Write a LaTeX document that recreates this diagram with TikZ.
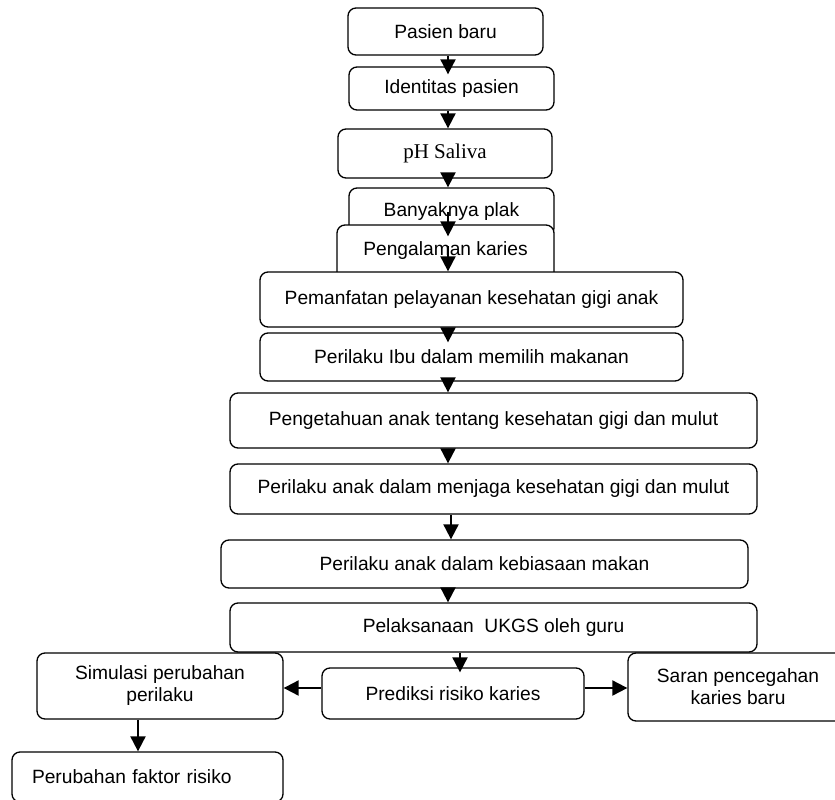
\documentclass[tikz,border=0pt]{standalone}
\usepackage{fontspec}
\setmainfont{Liberation Sans}
\newfontfamily\timesfont{Liberation Serif}
\usetikzlibrary{arrows.meta}
\tikzset{
  box/.style={draw, rounded corners=8pt, line width=1.3pt, fill=white, inner sep=0pt,
    font=\fontsize{19.2}{22}\selectfont},
  arr/.style={line width=2pt, -{Triangle[length=15pt,width=15pt]}}
}
\begin{document}
\begin{tikzpicture}[x=1pt, y=-1pt]
    \useasboundingbox (0,0) rectangle (835,800);
    \clip (0,0) rectangle (835,800);
    \coordinate (ax) at (448,0);
    \coordinate (bx) at (451,0);
    \coordinate (px) at (460,0);
    \coordinate (sx) at (138,0);
    \coordinate (hy) at (0,688);
    \node[box, minimum width=195pt, minimum height=47pt] (pasien) at (445.5,31.5) {Pasien baru};
    \node[box, minimum width=205pt, minimum height=43pt] (identitas) at (451.5,88.5) {Identitas pasien};
    \node[box, minimum width=214pt, minimum height=49pt, font=\timesfont\fontsize{21}{24}\selectfont] (ph) at (445,153.5) {pH Saliva};
    \node[box, minimum width=205pt, minimum height=48pt] (plak) at (451.5,212) {Banyaknya plak};
    \node[box, minimum width=217pt, minimum height=60pt, text depth=12pt] (karies) at (445.5,255) {Pengalaman karies};
    \node[box, minimum width=423pt, minimum height=55pt] (layanan) at (471.5,299.5) {Pemanfatan pelayanan kesehatan gigi anak};
    \node[box, minimum width=423pt, minimum height=48pt] (ibu) at (471.5,357) {Perilaku Ibu dalam memilih makanan};
    \node[box, minimum width=527pt, minimum height=55pt] (tahu) at (493.5,420.5) {Pengetahuan anak tentang kesehatan gigi dan mulut};
    \node[box, minimum width=527pt, minimum height=50pt] (jaga) at (493.5,489) {Perilaku anak dalam menjaga kesehatan gigi dan mulut};
    \node[box, minimum width=527pt, minimum height=48pt] (makan) at (484.5,564) {Perilaku anak dalam kebiasaan makan};
    \node[box, minimum width=527pt, minimum height=49pt] (ukgs) at (493.5,627.5) {Pelaksanaan\ \ UKGS oleh guru};
    \node[box, minimum width=262pt, minimum height=51pt] (prediksi) at (453,693.5) {Prediksi risiko karies};
    \node[box, minimum width=246pt, minimum height=66pt, align=center] (simulasi) at (160,686) {Simulasi perubahan\\perilaku};
    \node[box, minimum width=220pt, minimum height=68pt, align=center] (saran) at (738,687) {Saran pencegahan\\karies baru};
    \node[box, text width=231pt, inner xsep=20pt, minimum height=50pt, align=left] (faktor) at (147.5,777) {Perubahan faktor risiko};
    \draw[arr, shorten >=-8pt] (pasien.south -| ax) -- (identitas.north -| ax);
    \draw[arr] (identitas.south -| ax) -- (ph.north -| ax);
    \draw[arr] (ph.south -| ax) -- (plak.north -| ax);
    \draw[arr, shorten >=-12pt] (plak.center -| ax) -- (karies.north -| ax);
    \draw[arr, shorten <=22pt] (karies.north -| ax) -- (layanan.north -| ax);
    \draw[arr, shorten >=-10pt] (layanan.south -| ax) -- (ibu.north -| ax);
    \draw[arr] (ibu.south -| ax) -- (tahu.north -| ax);
    \draw[arr] (tahu.south -| ax) -- (jaga.north -| ax);
    \draw[arr] (jaga.south -| bx) -- (makan.north -| bx);
    \draw[arr] (makan.south -| ax) -- (ukgs.north -| ax);
    \draw[arr, shorten >=-5pt] (ukgs.south -| px) -- (prediksi.north -| px);
    \draw[arr] (prediksi.west |- hy) -- (simulasi.east |- hy);
    \draw[arr] (prediksi.east |- hy) -- (saran.west |- hy);
    \draw[arr] (simulasi.south -| sx) -- (faktor.north -| sx);
\end{tikzpicture}
\end{document}
